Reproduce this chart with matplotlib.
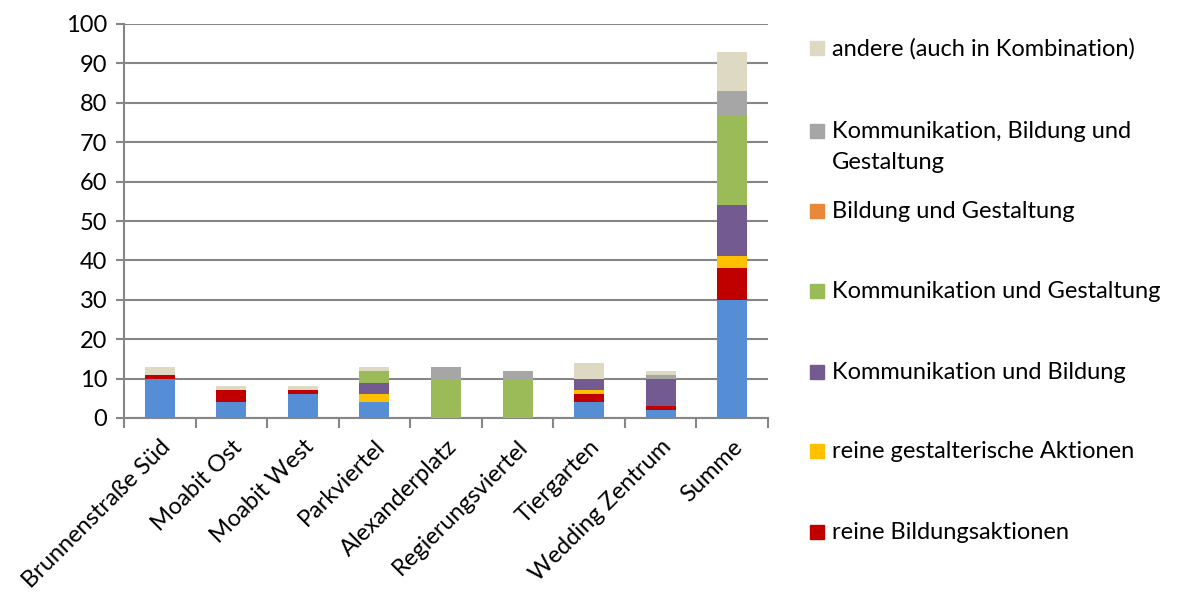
import numpy as np
import matplotlib.pyplot as plt
from matplotlib.patches import Rectangle

categories = ["Brunnenstraße Süd", "Moabit Ost", "Moabit West", "Parkviertel",
              "Alexanderplatz", "Regierungsviertel", "Tiergarten",
              "Wedding Zentrum", "Summe"]

series_names = [
    "reine Kommunikationsaktionen",
    "reine Bildungsaktionen",
    "reine gestalterische Aktionen",
    "Kommunikation und Bildung",
    "Kommunikation und Gestaltung",
    "Bildung und Gestaltung",
    "Kommunikation, Bildung und\nGestaltung",
    "andere (auch in Kombination)",
]
kommunikation = [10, 4, 6, 4, 0, 0, 4, 2, 30]
bildung = [1, 3, 1, 0, 0, 0, 2, 1, 8]
gestaltung = [0, 0, 0, 2, 0, 0, 1, 0, 3]
komm_bildung = [0, 0, 0, 3, 0, 0, 3, 7, 13]
komm_gestaltung = [0, 0, 0, 3, 10, 10, 0, 0, 23]
bildung_gestaltung = [0, 0, 0, 0, 0, 0, 0, 0, 0]
alle_drei = [0, 0, 0, 0, 3, 2, 0, 1, 6]
andere = [2, 1, 1, 1, 0, 0, 4, 1, 10]

series = [kommunikation, bildung, gestaltung, komm_bildung,
          komm_gestaltung, bildung_gestaltung, alle_drei, andere]
colors = ["#558ED5", "#C00000", "#FFC000", "#735A91",
          "#9BBB59", "#E8883A", "#A6A6A6", "#DDD9C3"]

plt.rcParams["font.family"] = ["Lato", "DejaVu Sans"]
grid_c = "#868686"
W, H = 1178, 596
fs = 17

fig = plt.figure(figsize=(W / 100, H / 100), dpi=100)
ax = fig.add_axes([124 / W, 1 - 418 / H, 644 / W, 394 / H])

x = np.arange(len(categories))
bottom = np.zeros(len(categories))
for vals, c, name in zip(series, colors, series_names):
    ax.bar(x, vals, 0.42, bottom=bottom, color=c, label=name, zorder=3)
    bottom += np.array(vals)

ax.set_xlim(-0.5, len(categories) - 0.5)
ax.set_ylim(0, 100)
ax.set_yticks(np.arange(0, 101, 10))
ax.yaxis.grid(True, color=grid_c, lw=1.5, zorder=0)
ax.tick_params(axis="y", labelsize=fs, length=6, width=1.5, color=grid_c, pad=6)

ax.set_xticks(np.arange(-0.5, len(categories)), minor=False)
ax.set_xticklabels([])
ax.set_xticks(x, minor=True)
ax.set_xticklabels(categories, minor=True, rotation=45, ha="right",
                   rotation_mode="anchor", fontsize=fs)
ax.tick_params(axis="x", which="major", length=7, width=1.5, color=grid_c)
ax.tick_params(axis="x", which="minor", length=0, pad=13)

for s in ["top", "right"]:
    ax.spines[s].set_visible(False)
for s in ["left", "bottom"]:
    ax.spines[s].set_color(grid_c)
    ax.spines[s].set_linewidth(1.5)

# legend laid out like the original (bottom entry is cut off by the frame)
legend_y = [532, 451, 372, 291, 211, 131, 48]  # pixel rows, series 1..7
for name, c, yy in zip(series_names[1:], colors[1:], legend_y):
    fig.add_artist(Rectangle((810 / W, 1 - (yy + 7) / H), 14 / W, 14 / H,
                             transform=fig.transFigure, color=c))
    fig.text(832 / W, 1 - (yy - 10) / H, name, fontsize=fs, va="top",
             ha="left", linespacing=1.6)

fig.savefig("out.png", dpi=100)
